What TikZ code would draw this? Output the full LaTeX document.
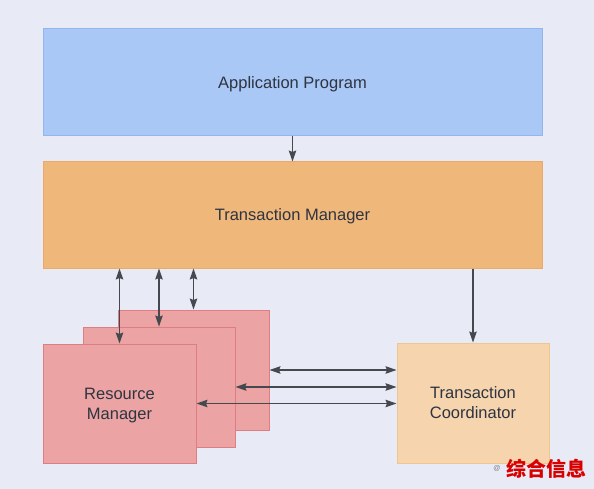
\documentclass[tikz,border=0pt]{standalone}
\usepackage{fontspec}
\setmainfont{Liberation Sans}
\newfontfamily\cjkfont{Noto Sans CJK SC}
\usetikzlibrary{arrows.meta,positioning,calc}

\definecolor{bgcol}{HTML}{E8EAF5}
\definecolor{apfill}{HTML}{A9C8F5}
\definecolor{apline}{HTML}{93B6EE}
\definecolor{tmfill}{HTML}{F0B77B}
\definecolor{tmline}{HTML}{EAAA6A}
\definecolor{rmfill}{HTML}{EBA3A3}
\definecolor{rmline}{HTML}{DE7E84}
\definecolor{tcfill}{HTML}{F5D4AE}
\definecolor{tcline}{HTML}{F0C690}
\definecolor{txtcol}{HTML}{2E3440}
\definecolor{arrcol}{HTML}{45484F}

\tikzset{
	block/.style={draw, line width=1pt, text=txtcol, font=\fontsize{16.5}{20}\selectfont, align=center, inner sep=0pt, text depth=0pt},
	link/.style={{Stealth[length=11pt,width=7.5pt,inset=1.5pt]}-{Stealth[length=11pt,width=7.5pt,inset=1.5pt]}, draw=arrcol, line width=1.3pt},
	down/.style={-{Stealth[length=11pt,width=7.5pt,inset=1.5pt]}, draw=arrcol, line width=1.3pt}
}

\begin{document}
\begin{tikzpicture}[x=1pt,y=-1pt]
		\useasboundingbox[fill=bgcol] (0,0) rectangle (594,489);

		\node[block, fill=apfill, draw=apline, minimum width=499pt, minimum height=107pt] (ap) at (292.5,82.5) {Application Program};
		\node[block, fill=tmfill, draw=tmline, minimum width=499pt, minimum height=106pt] (tm) at (292.5,215) {Transaction Manager};

		% stacked resource managers
		\node[block, fill=rmfill, draw=rmline, minimum width=151pt, minimum height=120pt] (rmback) at (193.5,370) {};
		\node[block, fill=rmfill, draw=rmline, minimum width=152pt, minimum height=120pt] (rmmid) at (159,387) {};
		\node[block, fill=rmfill, draw=rmline, minimum width=153pt, minimum height=119pt] (rmfront) at (119.5,403.5) {Resource\\Manager};

		\node[block, fill=tcfill, draw=tcline, minimum width=152pt, minimum height=120pt] (tc) at (473,403) {Transaction\\Coordinator};

		\draw[down] (ap.south) -- (tm.north);
		\draw[down] (tc.north |- tm.south) -- (tc.north);

		\draw[link] (rmfront.north |- tm.south) -- (rmfront.north);
		\draw[link] (rmmid.north |- tm.south) -- (rmmid.north);
		\draw[link] (rmback.north |- tm.south) -- (rmback.north);

		\draw[link] (rmback.east) -- (rmback.east -| tc.west);
		\draw[link] (rmmid.east) -- (rmmid.east -| tc.west);
		\draw[link] (rmfront.east) -- (rmfront.east -| tc.west);

		% watermark
		\node[text=gray, font=\fontsize{7}{8}\selectfont, anchor=east] (at) at (504,468) {@};
		\node[text=red!85!black, font=\cjkfont\bfseries\fontsize{20}{22}\selectfont, anchor=west] (mark) at (503,469) {综合信息};
	\end{tikzpicture}
\end{document}
